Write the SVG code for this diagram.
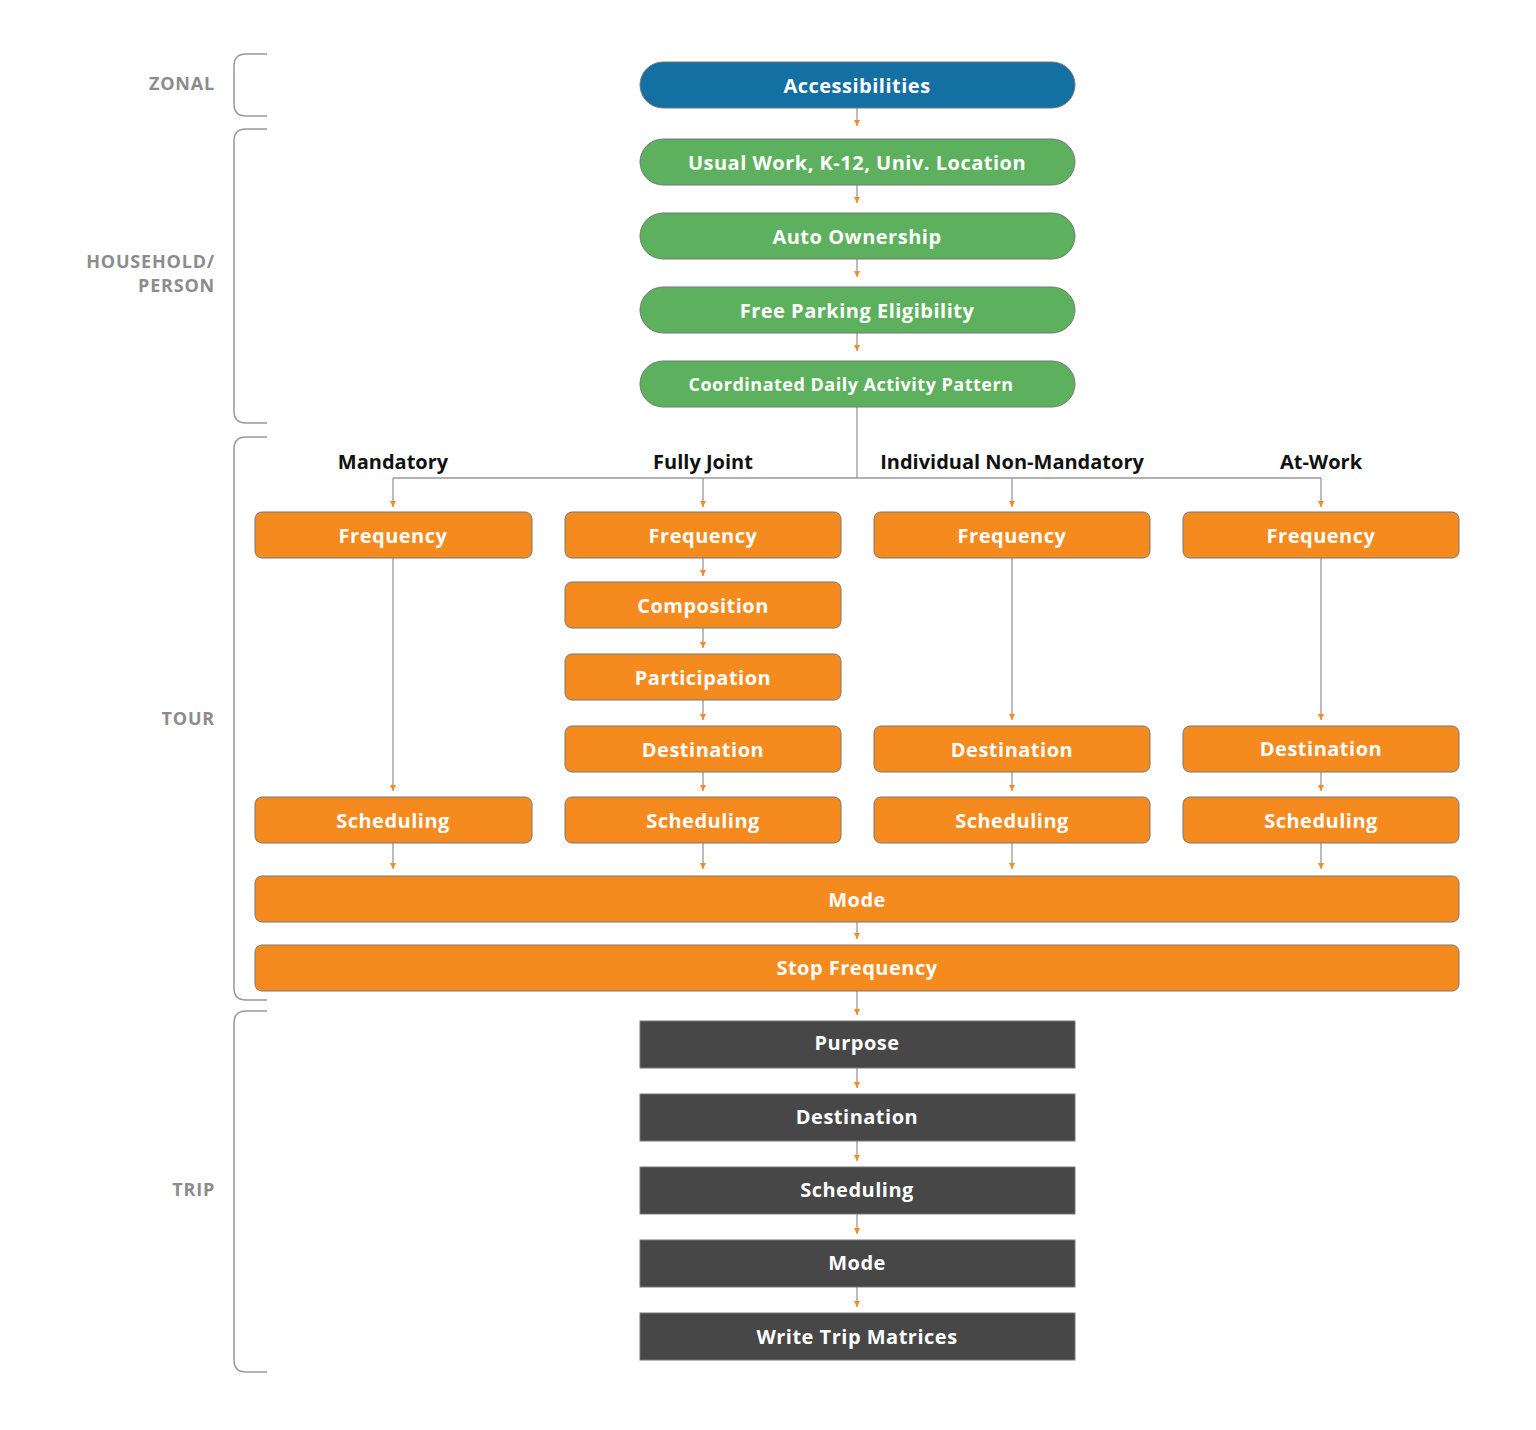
<svg xmlns="http://www.w3.org/2000/svg" width="1536" height="1430" viewBox="0 0 1536 1430">
<defs>
<marker id="a" viewBox="0 0 10 10" refX="10" refY="5" markerWidth="6" markerHeight="7" orient="auto" markerUnits="userSpaceOnUse"><path d="M0,0 L10,5 L0,10 z" fill="#f58a1f"/></marker>
<style>
.t{font-family:"Open Sans","Liberation Sans",sans-serif;font-weight:700;fill:#fff;font-size:20px;text-anchor:middle;dominant-baseline:central;letter-spacing:0.5px}
.h{font-family:"Open Sans","Liberation Sans",sans-serif;font-weight:700;fill:#111;font-size:20px;text-anchor:middle}
.l{font-family:"Open Sans","Liberation Sans",sans-serif;font-weight:700;fill:#8c8c8c;font-size:18px;text-anchor:end;letter-spacing:0.8px}
.b{fill:none;stroke:#999;stroke-width:1.5}
.c{fill:none;stroke:#999;stroke-width:1.3}
.ar{fill:none;stroke:#999;stroke-width:1.3;marker-end:url(#a)}
.bl{fill:#1470a2;stroke:#777;stroke-width:1}
.g{fill:#5db15e;stroke:#777;stroke-width:1}
.o{fill:#f58a1f;stroke:#777;stroke-width:1}
.d{fill:#474748;stroke:#777;stroke-width:1}
</style>
</defs>
<rect width="1536" height="1430" fill="#fff"/>
<g id="brackets">
<path class="b" d="M267,54 H246 Q234,54 234,66 V104 Q234,116 246,116 H267"/>
<path class="b" d="M267,129 H246 Q234,129 234,141 V411 Q234,423 246,423 H267"/>
<path class="b" d="M267,437 H246 Q234,437 234,449 V988 Q234,1000 246,1000 H267"/>
<path class="b" d="M267,1011 H246 Q234,1011 234,1023 V1360 Q234,1372 246,1372 H267"/>
<text class="l" x="215" y="90">ZONAL</text>
<text class="l" x="215" y="268">HOUSEHOLD/</text>
<text class="l" x="215" y="292">PERSON</text>
<text class="l" x="215" y="725">TOUR</text>
<text class="l" x="215" y="1196">TRIP</text>
</g>
<g id="headers">
<text class="h" x="393" y="469">Mandatory</text>
<text class="h" x="703" y="469">Fully Joint</text>
<text class="h" x="1012" y="469">Individual Non-Mandatory</text>
<text class="h" x="1321" y="469">At-Work</text>
</g>
<g id="connectors">
<path class="ar" d="M857,108 V126"/>
<path class="ar" d="M857,185 V203"/>
<path class="ar" d="M857,259 V277"/>
<path class="ar" d="M857,333 V351"/>
<path class="c" d="M857,407 V478 M393,478 H1321"/>
<path class="ar" d="M393,478 V507"/>
<path class="ar" d="M703,478 V507"/>
<path class="ar" d="M1012,478 V507"/>
<path class="ar" d="M1321,478 V507"/>
<path class="ar" d="M393,558 V791"/>
<path class="ar" d="M703,558 V576"/>
<path class="ar" d="M703,628 V648"/>
<path class="ar" d="M703,700 V720"/>
<path class="ar" d="M703,772 V791"/>
<path class="ar" d="M1012,558 V720"/>
<path class="ar" d="M1012,772 V791"/>
<path class="ar" d="M1321,558 V720"/>
<path class="ar" d="M1321,772 V791"/>
<path class="ar" d="M393,843 V869"/>
<path class="ar" d="M703,843 V869"/>
<path class="ar" d="M1012,843 V869"/>
<path class="ar" d="M1321,843 V869"/>
<path class="ar" d="M857,922 V939"/>
<path class="ar" d="M857,991 V1015"/>
<path class="ar" d="M857,1068 V1088"/>
<path class="ar" d="M857,1141 V1161"/>
<path class="ar" d="M857,1214 V1234"/>
<path class="ar" d="M857,1287 V1307"/>
</g>
<g id="n-access"><rect class="bl" x="640" y="62" width="435" height="46" rx="23"/><text class="t" x="857" y="85">Accessibilities</text></g>
<g id="n-usual"><rect class="g" x="640" y="139" width="435" height="46" rx="23"/><text class="t" x="857" y="162">Usual Work, K-12, Univ. Location</text></g>
<g id="n-auto"><rect class="g" x="640" y="213" width="435" height="46" rx="23"/><text class="t" x="857" y="236">Auto Ownership</text></g>
<g id="n-park"><rect class="g" x="640" y="287" width="435" height="46" rx="23"/><text class="t" x="857" y="310">Free Parking Eligibility</text></g>
<g id="n-cdap"><rect class="g" x="640" y="361" width="435" height="46" rx="23"/><text class="t" x="851" y="384" style="font-size:18px">Coordinated Daily Activity Pattern</text></g>
<g id="n-m-freq"><rect class="o" x="255" y="512" width="277" height="46" rx="7"/><text class="t" x="393" y="535">Frequency</text></g>
<g id="n-j-freq"><rect class="o" x="565" y="512" width="276" height="46" rx="7"/><text class="t" x="703" y="535">Frequency</text></g>
<g id="n-i-freq"><rect class="o" x="874" y="512" width="276" height="46" rx="7"/><text class="t" x="1012" y="535">Frequency</text></g>
<g id="n-w-freq"><rect class="o" x="1183" y="512" width="276" height="46" rx="7"/><text class="t" x="1321" y="535">Frequency</text></g>
<g id="n-j-comp"><rect class="o" x="565" y="582" width="276" height="46" rx="7"/><text class="t" x="703" y="605">Composition</text></g>
<g id="n-j-part"><rect class="o" x="565" y="654" width="276" height="46" rx="7"/><text class="t" x="703" y="677">Participation</text></g>
<g id="n-j-dest"><rect class="o" x="565" y="726" width="276" height="46" rx="7"/><text class="t" x="703" y="749">Destination</text></g>
<g id="n-i-dest"><rect class="o" x="874" y="726" width="276" height="46" rx="7"/><text class="t" x="1012" y="749">Destination</text></g>
<g id="n-w-dest"><rect class="o" x="1183" y="726" width="276" height="46" rx="7"/><text class="t" x="1321" y="748">Destination</text></g>
<g id="n-m-sched"><rect class="o" x="255" y="797" width="277" height="46" rx="7"/><text class="t" x="393" y="820">Scheduling</text></g>
<g id="n-j-sched"><rect class="o" x="565" y="797" width="276" height="46" rx="7"/><text class="t" x="703" y="820">Scheduling</text></g>
<g id="n-i-sched"><rect class="o" x="874" y="797" width="276" height="46" rx="7"/><text class="t" x="1012" y="820">Scheduling</text></g>
<g id="n-w-sched"><rect class="o" x="1183" y="797" width="276" height="46" rx="7"/><text class="t" x="1321" y="820">Scheduling</text></g>
<g id="n-mode"><rect class="o" x="255" y="876" width="1204" height="46" rx="7"/><text class="t" x="857" y="899">Mode</text></g>
<g id="n-stop"><rect class="o" x="255" y="945" width="1204" height="46" rx="7"/><text class="t" x="857" y="967">Stop Frequency</text></g>
<g id="n-purpose"><rect class="d" x="640" y="1021" width="435" height="47"/><text class="t" x="857" y="1042">Purpose</text></g>
<g id="n-tdest"><rect class="d" x="640" y="1094" width="435" height="47"/><text class="t" x="857" y="1116">Destination</text></g>
<g id="n-tsched"><rect class="d" x="640" y="1167" width="435" height="47"/><text class="t" x="857" y="1189">Scheduling</text></g>
<g id="n-tmode"><rect class="d" x="640" y="1240" width="435" height="47"/><text class="t" x="857" y="1262">Mode</text></g>
<g id="n-write"><rect class="d" x="640" y="1313" width="435" height="47"/><text class="t" x="857" y="1336">Write Trip Matrices</text></g>
</svg>
